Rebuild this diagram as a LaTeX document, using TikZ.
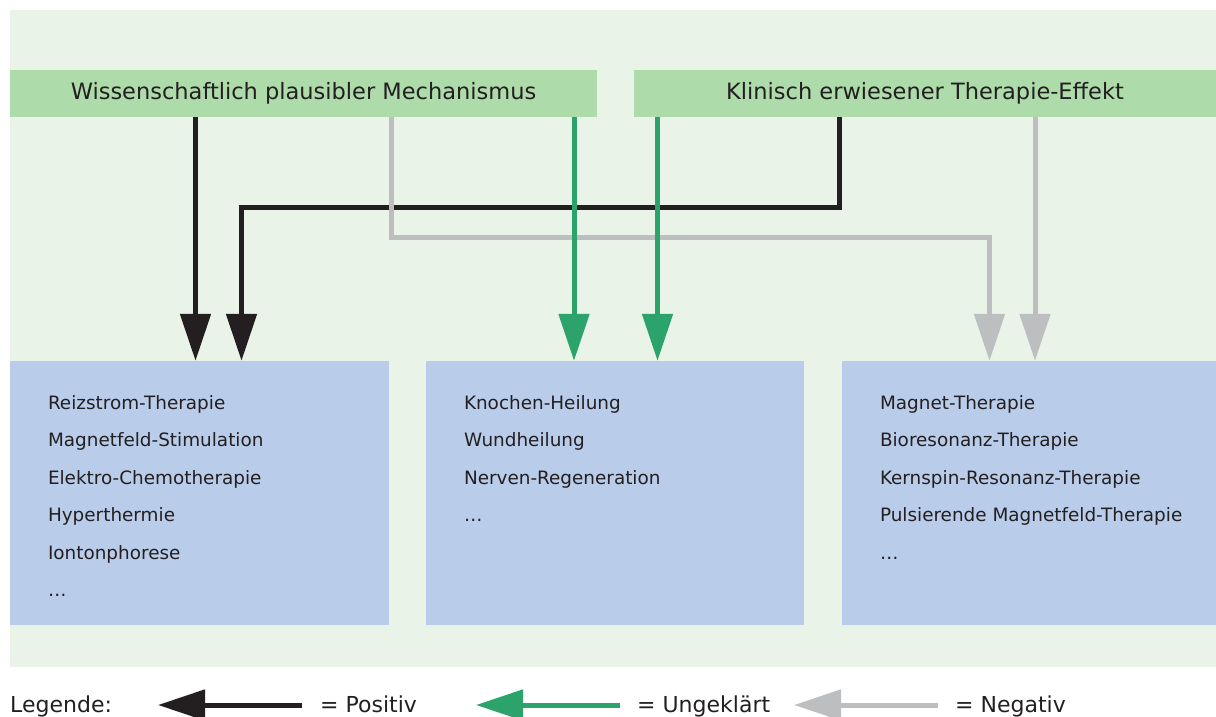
\documentclass[tikz,border=0pt]{standalone}
\usepackage{fontspec}
\setmainfont{DejaVu Sans}
\usetikzlibrary{arrows.meta}
\definecolor{bggreen}{HTML}{E9F3E7}
\definecolor{headgreen}{HTML}{AEDBAA}
\definecolor{boxblue}{HTML}{B9CDEA}
\definecolor{inkblack}{HTML}{231F20}
\definecolor{arrgreen}{HTML}{2BA36A}
\definecolor{arrgray}{HTML}{BDBEC0}
\tikzset{
  head/.style={fill=headgreen, minimum height=47pt, inner sep=0pt, text=inkblack,
    font=\fontsize{22.5}{27}\selectfont},
  group/.style={fill=boxblue, minimum height=264pt, inner sep=0pt},
  item/.style={anchor=base west, inner sep=0pt, text=inkblack, font=\fontsize{18.4}{22}\selectfont},
  legend/.style={anchor=base west, inner sep=0pt, text=inkblack, font=\fontsize{22}{26}\selectfont},
  rel/.style={line width=5pt, -{Triangle[length=47pt,width=30pt]}},
  posarr/.style={rel, draw=inkblack},
  openarr/.style={rel, draw=arrgreen},
  negarr/.style={rel, draw=arrgray}
}
\begin{document}
\begin{tikzpicture}[x=1pt,y=-1pt]
    \useasboundingbox (0,0) rectangle (1216,717);
    \fill[bggreen] (10,10) rectangle (1216,667);

    % headers
    \node[head, minimum width=587pt] (mech) at (303.5,93.5) {Wissenschaftlich plausibler Mechanismus};
    \node[head, minimum width=582pt] (effekt) at (925,93.5) {Klinisch erwiesener Therapie-Effekt};

    % groups
    \node[group, minimum width=379pt] (pos) at (199.5,493) {};
    \node[group, minimum width=378pt] (open) at (615,493) {};
    \node[group, minimum width=374pt] (neg) at (1029,493) {};

    \foreach \txt [count=\i] in {Reizstrom-Therapie, Magnetfeld-Stimulation, Elektro-Chemotherapie, Hyperthermie, Iontonphorese, \ldots}
        \node[item] (pos\i) at ([xshift=38pt, yshift={-11pt-37.5pt*\i}]pos.north west) {\txt};
    \foreach \txt [count=\i] in {Knochen-Heilung, Wundheilung, Nerven-Regeneration, \ldots}
        \node[item] (open\i) at ([xshift=38pt, yshift={-11pt-37.5pt*\i}]open.north west) {\txt};
    \foreach \txt [count=\i] in {Magnet-Therapie, Bioresonanz-Therapie, Kernspin-Resonanz-Therapie, Pulsierende Magnetfeld-Therapie, \ldots}
        \node[item] (neg\i) at ([xshift=38pt, yshift={-11pt-37.5pt*\i}]neg.north west) {\txt};

    % connectors
    \coordinate (xa) at (195.5,0);
    \coordinate (ka) at (839.5,207.5);
    \coordinate (kb) at (241.5,207.5);
    \coordinate (ga) at (391.5,237.5);
    \coordinate (gb) at (989.5,237.5);
    \coordinate (gc) at (1035,0);
    \coordinate (ua) at (574,0);
    \coordinate (ub) at (657.5,0);
    \draw[posarr] (xa |- mech.south) -- (xa |- pos.north);
    \draw[posarr] (ka |- effekt.south) -- (ka) -- (kb) -- (kb |- pos.north);
    \draw[negarr] (ga |- mech.south) -- (ga) -- (gb) -- (gb |- neg.north);
    \draw[negarr] (gc |- effekt.south) -- (gc |- neg.north);
    \draw[openarr] (ua |- mech.south) -- (ua |- open.north);
    \draw[openarr] (ub |- effekt.south) -- (ub |- open.north);

    % legend
    \node[legend] (leg) at (10,712) {Legende:};
    \coordinate (l1a) at (302,705);
    \coordinate (l1b) at (158,705);
    \coordinate (l2a) at (620,705);
    \coordinate (l2b) at (476,705);
    \coordinate (l3a) at (938,705);
    \coordinate (l3b) at (794,705);
    \draw[posarr] (l1a) -- (l1b);
    \draw[openarr] (l2a) -- (l2b);
    \draw[negarr] (l3a) -- (l3b);
    \node[legend] (lpos) at (320,712) {= Positiv};
    \node[legend] (lopen) at (637,712) {= Ungeklärt};
    \node[legend] (lneg) at (955,712) {= Negativ};
\end{tikzpicture}
\end{document}
